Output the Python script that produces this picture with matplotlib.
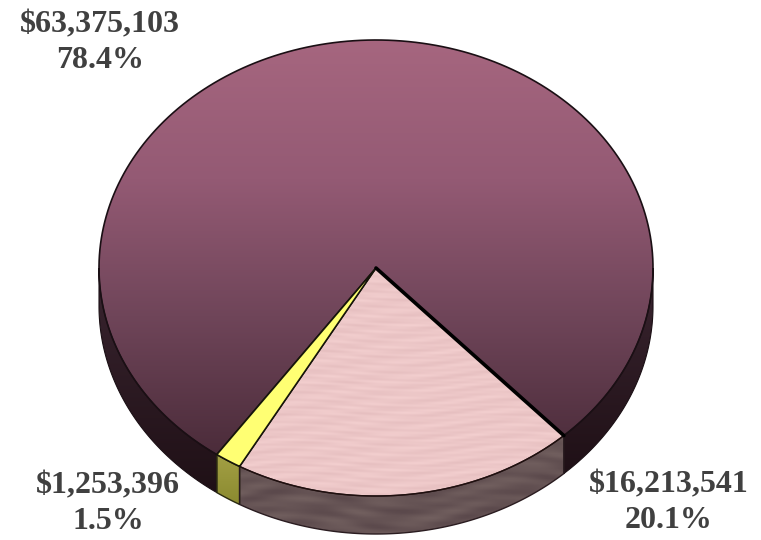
# -*- coding: utf-8 -*-

"""3D looking pie chart, drawn with patches and clipped gradients."""

import numpy as np
import matplotlib
matplotlib.use("Agg")
import matplotlib.pyplot as plt
from matplotlib.colors import LinearSegmentedColormap
from matplotlib.patches import Polygon

# =============================================================================
# DATA
# =============================================================================

amounts = [16213541, 1253396, 63375103]
amount_labels = ["$16,213,541", "$1,253,396", "$63,375,103"]
percent_labels = ["20.1%", "1.5%", "78.4%"]

# =============================================================================
# GEOMETRY
# =============================================================================

CX, CY = 376, 268
RX, RY = 277, 228
DEPTH = 38
START = -47.3

W, H = 761, 540


def arc(t0, t1, dy=0, n=200):
    t = np.radians(np.linspace(t0, t1, n))
    return np.column_stack([CX + RX * np.cos(t), CY - RY * np.sin(t) + dy])


def gradient(ax, points, colors, img=None, edge="#1a0f14", lw=1.0):
    poly = Polygon(points, closed=True, facecolor="none", edgecolor="none")
    ax.add_patch(poly)
    x0, y0 = points.min(axis=0)
    x1, y1 = points.max(axis=0)
    if img is None:
        img = np.linspace(0, 1, 256).reshape(-1, 1)
    cmap = LinearSegmentedColormap.from_list("g", colors)
    im = ax.imshow(img, extent=(x0, x1, y1, y0), cmap=cmap, vmin=0, vmax=1,
                   aspect="auto", interpolation="bilinear", zorder=2)
    im.set_clip_path(poly)
    ax.add_patch(Polygon(points, closed=True, facecolor="none", edgecolor=edge,
                         linewidth=lw, zorder=3))


def streaks(rows=220, cols=300):
    # soft horizontal mottling for the pink slice
    y, x = np.mgrid[0:rows, 0:cols]
    v = (np.sin(y * 0.9 + np.sin(x * 0.031) * 4)
         + 0.7 * np.sin(y * 0.37 + x * 0.083)
         + 0.5 * np.sin(y * 1.7 - x * 0.061))
    return 0.5 + v / 4.4


fig = plt.figure(figsize=(W / 100, H / 100), dpi=100)
ax = fig.add_axes([0, 0, 1, 1])
ax.axis("off")

shares = np.array(amounts) / sum(amounts) * 360
t_pink = START - shares[0]
t_yellow = t_pink - shares[1]

# =============================================================================
# SIDES
# =============================================================================


def side(t0, t1):
    return np.vstack([arc(t0, t1), arc(t1, t0, DEPTH)])


for rng in [(-180, t_yellow), (START, 0)]:
    gradient(ax, side(*rng), ["#3a2530", "#1f1016"], lw=0.8)
gradient(ax, side(t_yellow, t_pink), ["#a3a044", "#8b8a30"], edge="#2a2a10")
gradient(ax, side(t_pink, START), ["#5a484b", "#72605f"],
         img=streaks(rows=40), edge="#2a1c20")

# =============================================================================
# TOP FACE
# =============================================================================

center = np.array([[CX, CY]])
maroon = np.vstack([center, arc(START, t_yellow + 360)])
yellow = np.vstack([center, arc(t_yellow, t_pink)])
pink = np.vstack([center, arc(t_pink, START)])

gradient(ax, maroon, ["#a6667f", "#945a74", "#6f4559", "#4b2c3a"], lw=1.2)
gradient(ax, pink, ["#e6bfc0", "#f3cfcf"], img=streaks(), edge="#20100f", lw=1.0)
ax.add_patch(Polygon(yellow, closed=True, facecolor="#ffff73",
                     edgecolor="#15150a", linewidth=1.2, zorder=4))

# heavy black line along the pink / maroon edge
edge_pt = arc(START, START, n=1)[0]
ax.plot([CX, edge_pt[0]], [CY, edge_pt[1]], color="black", lw=2.6, zorder=5,
        solid_capstyle="round")

# =============================================================================
# LABELS
# =============================================================================

positions = [(669, 503), (108, 504), (100, 43)]
for pos, amount, percent in zip(positions, amount_labels, percent_labels):
    ax.text(pos[0], pos[1], amount + "\n" + percent, ha="center", va="center",
            family="Liberation Serif", fontweight="bold", fontsize=23,
            color="#404040", linespacing=1.3, zorder=6)

ax.set_xlim(0, W)
ax.set_ylim(H, 0)

plt.savefig("out.png", dpi=100)
plt.close()
